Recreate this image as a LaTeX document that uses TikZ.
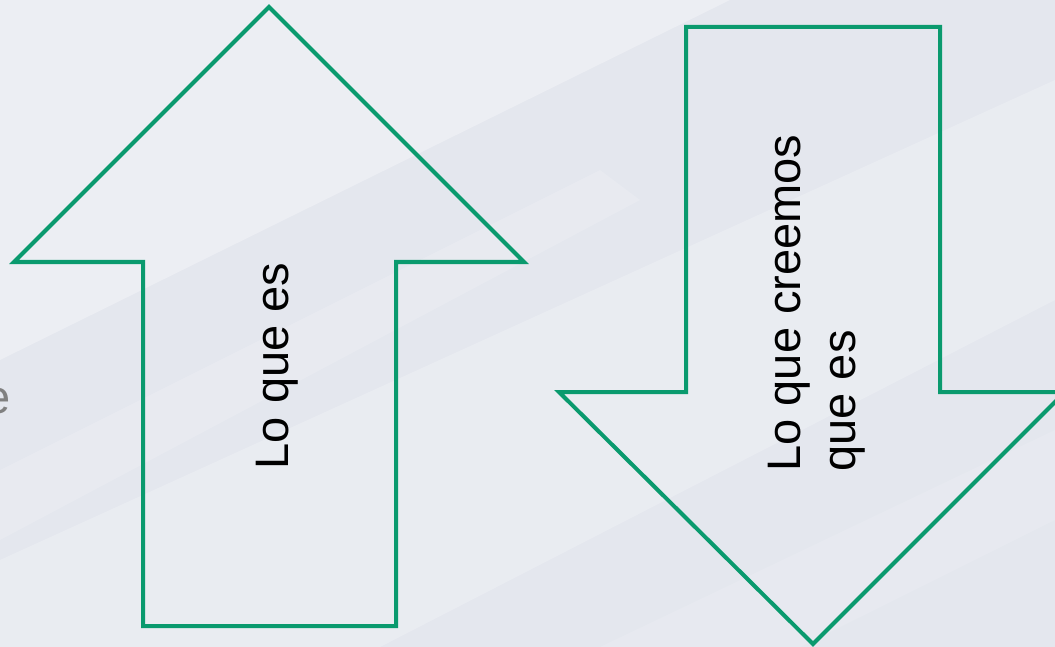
\documentclass[tikz,border=0pt]{standalone}
\usepackage{fontspec}
\setmainfont{Liberation Sans}
\definecolor{bgbase}{HTML}{E4E7EE}
\definecolor{arrowgreen}{HTML}{0A9A6E}
\definecolor{ghostgray}{HTML}{808080}

\begin{document}
\begin{tikzpicture}[x=1pt, y=-1pt,
    outline/.style={draw=arrowgreen, line width=4pt, line join=miter},
    arrowtext/.style={font=\fontsize{47}{55}\selectfont, rotate=90, align=left, inner sep=0pt},
    streak/.style={fill=white, opacity=0.22}
]
\useasboundingbox (0,0) rectangle (1055,647);
\clip (0,0) rectangle (1055,647);
\fill[bgbase] (0,0) rectangle (1055,647);

% soft diagonal streaks of the slide background
\fill[streak, opacity=0.3] (0,0) -- (730,0) -- (0,360) -- cycle;
\fill[streak, opacity=0.15] (0,470) -- (600,170) -- (640,200) -- (0,540) -- cycle;
\fill[streak] (0,647) -- (0,560) -- (1055,80) -- (1055,300) -- (380,647) -- cycle;
\fill[streak, opacity=0.12] (600,647) -- (1055,430) -- (1055,520) -- (800,647) -- cycle;

% clipped text at the left edge
\node[font=\fontsize{47}{55}\selectfont, text=ghostgray, anchor=base east, inner sep=0pt] (ghost) at (11,413) {e};

% up arrow
\draw[outline] (269,7) -- (524,262) -- (396,262) -- (396,626) -- (143,626)
    -- (143,262) -- (14,262) -- cycle;
% down arrow
\draw[outline] (686,27) -- (940,27) -- (940,392) -- (1065,392) -- (813,644)
    -- (559,392) -- (686,392) -- cycle;

\node[arrowtext, anchor=base] (isit) at (288,366) {Lo que es};
\node[arrowtext] (believe) at (817,303) {Lo que creemos\\que es};
\end{tikzpicture}
\end{document}
